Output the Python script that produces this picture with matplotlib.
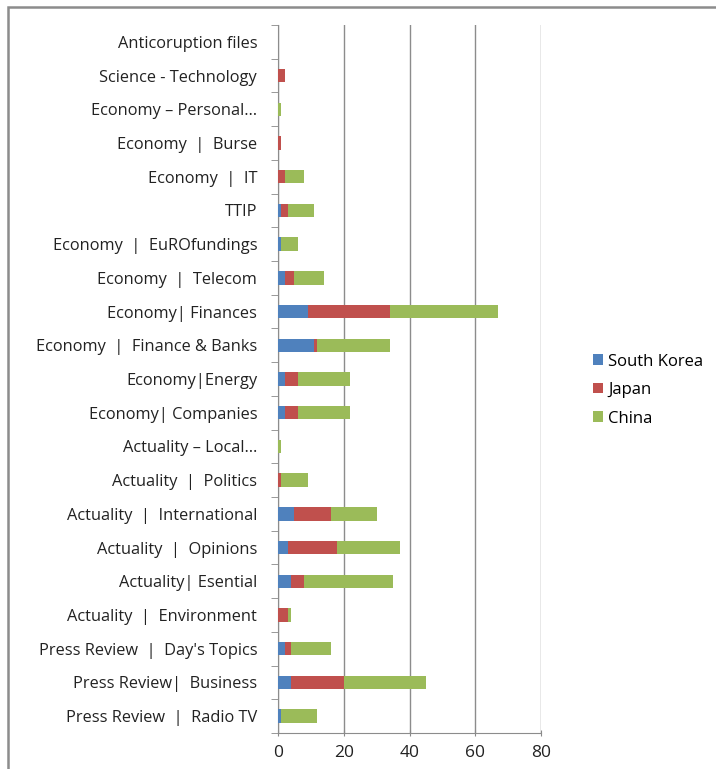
import matplotlib
matplotlib.use("Agg")
import matplotlib.pyplot as plt
from matplotlib.patches import Rectangle
import numpy as np

plt.rcParams['font.family'] = ['Open Sans', 'DejaVu Sans']

# categories, bottom to top
categories = [
    "Press Review  |  Radio TV",
    "Press Review|  Business",
    "Press Review  |  Day's Topics",
    "Actuality  |  Environment",
    "Actuality| Esential",
    "Actuality  |  Opinions",
    "Actuality  |  International",
    "Actuality  |  Politics",
    "Actuality \u2013 Local\u2026",
    "Economy| Companies",
    "Economy|Energy",
    "Economy  |  Finance & Banks",
    "Economy| Finances",
    "Economy  |  Telecom",
    "Economy  |  EuROfundings",
    "TTIP",
    "Economy  |  IT",
    "Economy  |  Burse",
    "Economy \u2013 Personal\u2026",
    "Science - Technology",
    "Anticoruption files",
]
south_korea = [1, 4, 2, 0, 4, 3, 5, 0, 0, 2, 2, 11, 9, 2, 1, 1, 0, 0, 0, 0, 0]
japan       = [0, 16, 2, 3, 4, 15, 11, 1, 0, 4, 4, 1, 25, 3, 0, 2, 2, 1, 0, 2, 0]
china       = [11, 25, 12, 1, 27, 19, 14, 8, 1, 16, 16, 22, 33, 9, 5, 8, 6, 0, 1, 0, 0]

series = [("South Korea", south_korea, "#4F81BD"),
          ("Japan", japan, "#C0504D"),
          ("China", china, "#9BBB59")]

fig = plt.figure(figsize=(7.16, 7.69), dpi=100, facecolor='white')
ax = fig.add_axes([278 / 716, 1 - 733 / 769, 263 / 716, (733 - 25) / 769])

y = np.arange(len(categories))
left = np.zeros(len(categories))
for name, vals, col in series:
    vals = np.array(vals, dtype=float)
    ax.barh(y, vals, left=left, height=0.4, color=col, label=name, zorder=3)
    left += vals

ax.set_xlim(0, 80)
ax.set_ylim(-0.5, len(categories) - 0.5)
ax.set_xticks([0, 20, 40, 60, 80])
ax.set_yticks(y)
ax.set_yticklabels(categories, fontsize=11.8, color='#222222')
ax.set_yticks(np.arange(-0.5, len(categories), 1), minor=True)
ax.tick_params(axis='y', which='major', length=0, pad=15)
ax.tick_params(axis='y', which='minor', length=5, color='#888888', direction='out')
ax.tick_params(axis='x', length=5, color='#888888', direction='inout', labelsize=12.5,
               labelcolor='#222222', pad=6)
ax.grid(axis='x', color='#8c8c8c', linewidth=1.0, zorder=0)
for s in ['top', 'right']:
    ax.spines[s].set_visible(False)
ax.spines['left'].set_color('#8c8c8c')
ax.spines['bottom'].set_color('#8c8c8c')

ax.legend(loc='center left', bbox_to_anchor=(578 / 716, 1 - 390 / 769),
          bbox_transform=fig.transFigure, frameon=False, fontsize=12,
          handlelength=0.6, handleheight=0.6, handletextpad=0.3, labelspacing=0.75)

# outer frame
fig.patches.append(Rectangle((8 / 716, -0.1), 1.2, 1 - 7.5 / 769 + 0.1,
                             transform=fig.transFigure, fill=False,
                             edgecolor='#8c8c8c', linewidth=1.8))

fig.savefig("out.png", dpi=100, facecolor='white')
